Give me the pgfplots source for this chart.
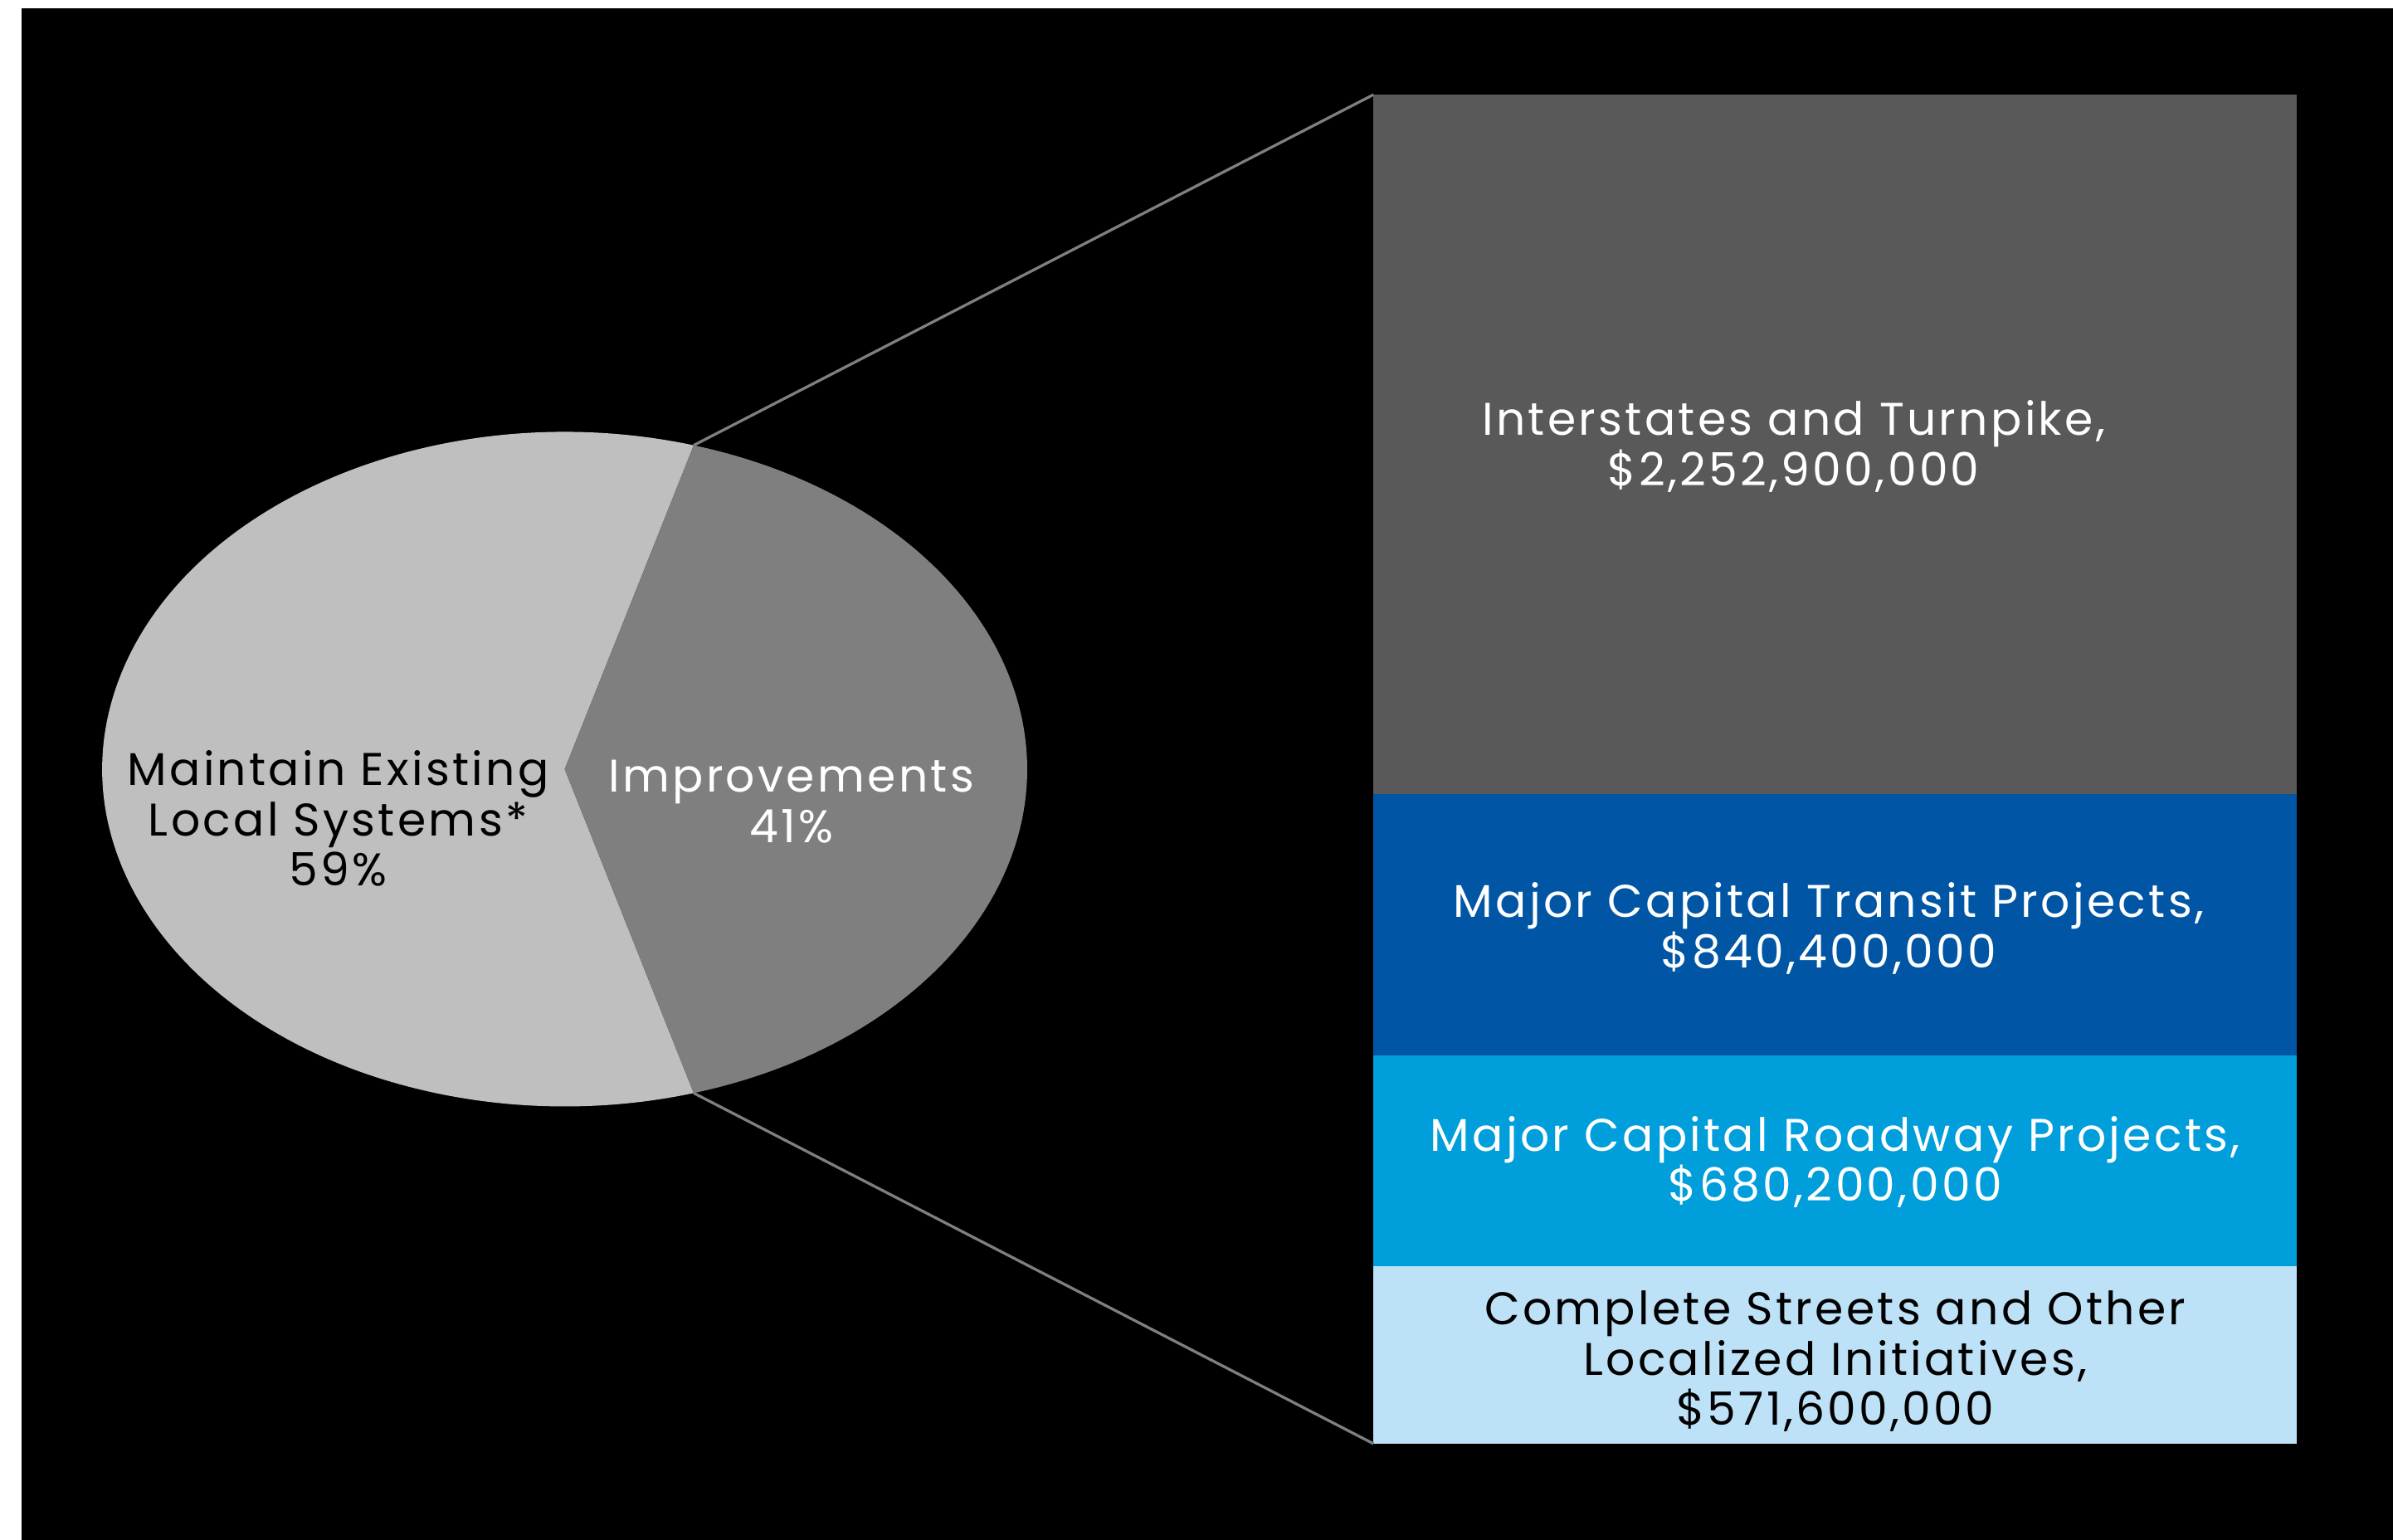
\documentclass[border=0pt]{standalone}
\usepackage{pgfplots}
\pgfplotsset{compat=1.18}
\usepackage{fontspec}
\setmainfont{Poppins}
\newfontfamily\labfont[LetterSpace=6]{Poppins}
\definecolor{pielight}{HTML}{BFBFBF}
\definecolor{piedark}{HTML}{7F7F7F}
\definecolor{bargray}{HTML}{595959}
\definecolor{bardark}{HTML}{0056A4}
\definecolor{barmid}{HTML}{009EDB}
\definecolor{barlight}{HTML}{BDE1F6}
\definecolor{linegray}{HTML}{7F7F7F}
\begin{document}
\begin{tikzpicture}
\fill[white] (0pt,0pt) rectangle (784pt,504.5pt);
\fill[black] (7pt,0pt) rectangle (784pt,501.75pt);
% pie values
\def\vMaintain{59}
\def\vImprove{41}
\pgfmathsetmacro\halfang{\vImprove/100*180}
\pgfmathsetmacro\startang{\halfang}
\pgfmathsetmacro\endang{360-\halfang}
\begin{axis}[
  at={(185pt,252.5pt)}, anchor=center,
  scale only axis, width=303pt, height=221pt,
  xmin=-1, xmax=1, ymin=-1, ymax=1,
  hide axis, clip=false,
]
\fill[pielight] (axis cs:0,0) -- (axis cs:{cos(\startang)},{sin(\startang)})
  arc[start angle=\startang, end angle=\endang, x radius=151.5pt, y radius=110.5pt] -- cycle;
\fill[piedark] (axis cs:0,0) -- (axis cs:{cos(-\halfang)},{sin(-\halfang)})
  arc[start angle=-\halfang, end angle=\halfang, x radius=151.5pt, y radius=110.5pt] -- cycle;
\coordinate (ptop) at (axis cs:{cos(\halfang)},{sin(\halfang)});
\coordinate (pbot) at (axis cs:{cos(\halfang)},{-sin(\halfang)});
\coordinate (lmaint) at (axis cs:-0.49,-0.146);
\coordinate (limpr) at (axis cs:0.49,-0.097);
\end{axis}
\begin{axis}[
  at={(450pt,31.5pt)}, anchor=south west,
  scale only axis, width=302.5pt, height=442pt,
  xmin=-0.5, xmax=0.5, ymin=0, ymax=4345.1,
  hide axis, clip=false,
  ybar stacked, bar width=1,
]
\addplot[fill=barlight, draw=none] coordinates {(0,571.6)};
\addplot[fill=barmid, draw=none] coordinates {(0,680.2)};
\addplot[fill=bardark, draw=none] coordinates {(0,840.4)};
\addplot[fill=bargray, draw=none] coordinates {(0,2252.9)};
\coordinate (btop) at (axis cs:-0.5,4345.1);
\coordinate (bbot) at (axis cs:-0.5,0);
\coordinate (l1) at (axis cs:-0.045,3212);
\coordinate (l2) at (axis cs:-0.007,1659);
\coordinate (l3) at (axis cs:0,907);
\coordinate (l4) at (axis cs:0,265);
\end{axis}
\draw[linegray, line width=0.9pt] (ptop) -- (btop);
\draw[linegray, line width=0.9pt] (pbot) -- (bbot);
\tikzset{lab/.style={align=center, font=\labfont\fontsize{15}{16.5}\selectfont}}
\node[lab, text=black] at (lmaint) {Maintain Existing\\Local Systems*\\59\%};
\node[lab, text=white] at (limpr) {Improvements\\41\%};
\node[lab, text=white] at (l1) {Interstates and Turnpike,\\\$2,252,900,000};
\node[lab, text=white] at (l2) {Major Capital Transit Projects,\\\$840,400,000};
\node[lab, text=white] at (l3) {Major Capital Roadway Projects,\\\$680,200,000};
\node[lab, text=black] at (l4) {Complete Streets and Other\\Localized Initiatives,\\\$571,600,000};
\end{tikzpicture}
\end{document}
